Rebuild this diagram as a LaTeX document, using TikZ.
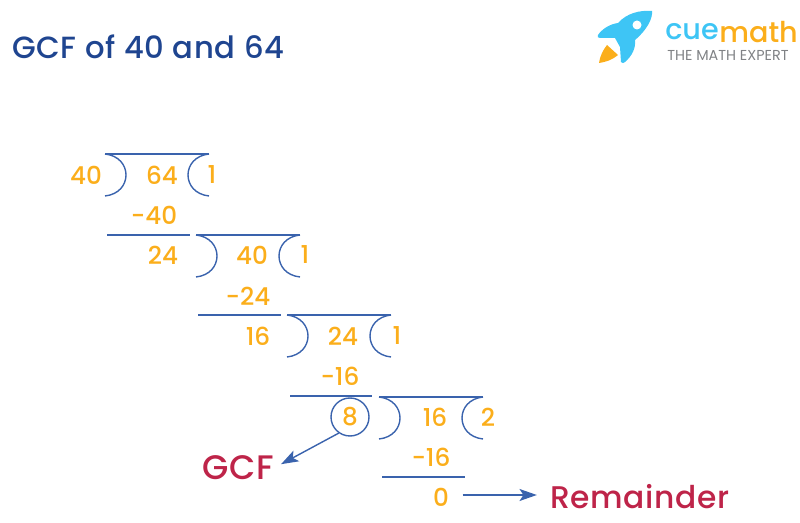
\documentclass[tikz,border=0pt]{standalone}
\usepackage{fontspec}
\setmainfont{Poppins}
\newfontfamily\cuemedium[LetterSpace=2]{Poppins Medium}
\newfontfamily\cueplain{Poppins Medium}
\usetikzlibrary{arrows.meta}
\definecolor{cueblue}{HTML}{3A63AD}
\definecolor{cueorange}{HTML}{FBAE1B}
\definecolor{cuered}{HTML}{BE2449}
\definecolor{cuetitle}{HTML}{1F4590}
\definecolor{cuesky}{HTML}{3EC5F5}
\definecolor{cuegrey}{HTML}{808285}
\tikzset{
    digit/.style={text=cueorange, font=\fontsize{18.5}{22}\cueplain, inner sep=0pt},
    word/.style={text=cuered, font=\fontsize{23.5}{28}\cuemedium, inner sep=0pt},
    rulebar/.style={draw=cueblue, line width=1.05pt},
    pointer/.style={draw=cueblue, line width=1.05pt, -{Stealth[length=13pt,width=9pt,inset=3pt]}}
}
\begin{document}
\begin{tikzpicture}[x=0.75pt,y=-0.75pt]
	\useasboundingbox (0,0) rectangle (800,523);

	% title and logo
	\node[anchor=west, inner sep=0pt, text=cuetitle, font=\fontsize{23}{27}\cuemedium] (title) at (12,47) {GCF of 40 and 64};
	\fill[cuesky] (652,11) .. controls (640,10) and (627,13) .. (618,23) .. controls (610,24) and (602,29) .. (598,35) .. controls (597,37) and (598,38) .. (600,38) -- (615,38) -- (620,47) -- (621,62) .. controls (622,64) and (624,63) .. (625,62) .. controls (632,56) and (636,48) .. (635,40) .. controls (647,30) and (653,18) .. (652,11) -- cycle;
	\fill[cueorange] (599,63) .. controls (600,56) and (603,50) .. (607,45) -- (618,55) .. controls (612,60) and (606,62) .. (599,63) -- cycle;
	\fill[white] (637,25) circle (4.5);
	\node[anchor=west, inner sep=0pt, text=cuesky, font=\fontsize{21.5}{26}\cueplain] (cue) at (665,32) {cue};
	\node[anchor=west, inner sep=0pt, text=cueorange, font=\fontsize{21.5}{26}\cueplain] (math) at (cue.east) {math};
	\node[anchor=west, inner sep=0pt, text=cuegrey, font=\fontsize{10.8}{13}\selectfont] (expert) at (667,55) {THE MATH EXPERT};

	% division brackets
	\foreach \x/\y in {105/154, 196/235, 287/315, 379/397}
	{
		\draw[rulebar] (\x,\y) -- (\x+104,\y);
		\draw[rulebar] (\x,\y) .. controls (\x+28,\y+3) and (\x+28,\y+39) .. (\x,\y+42);
		\draw[rulebar] (\x+104,\y) .. controls (\x+76,\y+3) and (\x+76,\y+39) .. (\x+104,\y+42);
	}

	% rules under the subtractions
	\draw[rulebar] (107,235) -- (190,235);
	\draw[rulebar] (198,315) -- (281,315);
	\draw[rulebar] (290,396) -- (372,396);
	\draw[rulebar] (382,477) -- (465,477);

	\node[digit] (d1) at (86,175) {40};
	\node[digit] (n1) at (162,175) {64};
	\node[digit] (q1) at (212,175) {1};
	\node[digit] (s1) at (154,215) {-40};
	\node[digit] (r1) at (163,255) {24};
	\node[digit] (n2) at (252,255) {40};
	\node[digit] (q2) at (305,255) {1};
	\node[digit] (s2) at (248,296) {-24};
	\node[digit] (r2) at (258,336) {16};
	\node[digit] (n3) at (343,336) {24};
	\node[digit] (q3) at (397,336) {1};
	\node[digit] (s3) at (340,376) {-16};
	\node[digit, circle, draw=cueblue, line width=1.05pt, minimum size=28.5pt] (r3) at (350,417) {8};
	\node[digit] (n4) at (435,417) {16};
	\node[digit] (q4) at (488,417) {2};
	\node[digit] (s4) at (431,457) {-16};
	\node[digit] (r4) at (441,497) {0};

	\node[word, font=\fontsize{25.5}{30}\cuemedium] (gcf) at (238,468) {GCF};
	\node[word] (remainder) at (640,497) {Remainder};

	\draw[pointer, shorten >=6pt] (r3.235) -- (gcf.east);
	\draw[pointer, shorten <=10pt, shorten >=10pt] ([yshift=1.5pt]r4.east) -- ([yshift=1.5pt]remainder.west);
\end{tikzpicture}
\end{document}
